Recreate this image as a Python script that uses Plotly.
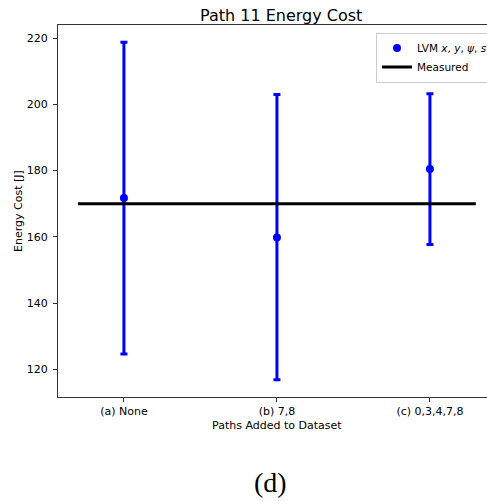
import plotly.graph_objects as go

# Dataset variants along the x axis
categories = ["(a) None", "(b) 7,8", "(c) 0,3,4,7,8"]
cat_pos = [0, 1, 2]

# LVM predicted energy cost with lower/upper bounds [J]
lvm_mean = [171.7, 159.8, 180.5]
lvm_upper = [218.8, 203.0, 203.2]
lvm_lower = [124.6, 116.8, 157.7]

# Measured energy cost [J] and the x extent of its reference line
measured_value = 170.0
measured_span = [-0.3, 2.3]

err_plus = [u - m for u, m in zip(lvm_upper, lvm_mean)]
err_minus = [m - l for m, l in zip(lvm_mean, lvm_lower)]

W, H = 487, 501
L, R, T, B = 58, 0, 25, 104
pw, ph = W - L - R, H - T - B

font = "DejaVu Sans"

fig = go.Figure()
fig.add_trace(go.Scatter(
    x=cat_pos, y=lvm_mean, mode="markers",
    name="LVM <i>x</i>, <i>y</i>, <i>ψ</i>, <i>s</i>",
    marker=dict(color="#0000ff", size=8),
    error_y=dict(type="data", symmetric=False, array=err_plus, arrayminus=err_minus,
                 color="#0000ff", thickness=3, width=3.5),
))
fig.add_trace(go.Scatter(
    x=measured_span, y=[measured_value] * len(measured_span), mode="lines",
    name="Measured", line=dict(color="black", width=3),
))


def px_x(p):
    return (p - L) / pw


def px_y(p):
    return 1 - (p - T) / ph


fig.update_layout(
    width=W, height=H,
    margin=dict(l=L, r=R, t=T, b=B, pad=0, autoexpand=False),
    paper_bgcolor="white", plot_bgcolor="white",
    font=dict(family=font, size=11, color="black"),
    showlegend=True,
    legend=dict(x=px_x(376), y=px_y(32.5), xanchor="left", yanchor="top",
                bgcolor="white", bordercolor="#cccccc", borderwidth=1,
                font=dict(size=10.5), tracegroupgap=0, itemwidth=30),
    xaxis=dict(range=[-0.431, 2.373], tickvals=cat_pos, ticktext=categories,
               automargin=False,
               showgrid=False, zeroline=False, showline=True, linecolor="#333333",
               linewidth=1, mirror=True, ticks="outside", ticklen=4, tickcolor="#333333",
               tickfont=dict(size=11)),
    yaxis=dict(range=[111.6, 224.0], tickvals=[120, 140, 160, 180, 200, 220],
               automargin=False,
               showgrid=False, zeroline=False, showline=True, linecolor="#333333",
               linewidth=1, ticks="outside", ticklen=4, tickcolor="#333333",
               tickfont=dict(size=11), ticklabelstandoff=3),
    annotations=[
        dict(text="Path 11 Energy Cost", x=px_x(281), y=px_y(15), xref="paper", yref="paper",
             showarrow=False, font=dict(size=16), xanchor="center", yanchor="middle"),
        dict(text="Paths Added to Dataset", x=px_x(277), y=px_y(425), xref="paper", yref="paper",
             showarrow=False, font=dict(size=11), xanchor="center", yanchor="middle"),
        dict(text="Energy Cost [J]", x=px_x(18), y=px_y(211), xref="paper", yref="paper",
             showarrow=False, font=dict(size=11), textangle=-90, xanchor="center", yanchor="middle"),
        dict(text="(d)", x=px_x(270), y=px_y(482), xref="paper", yref="paper",
             showarrow=False, font=dict(family="Liberation Serif", size=28),
             xanchor="center", yanchor="middle"),
    ],
)

fig.write_html("out.html")
